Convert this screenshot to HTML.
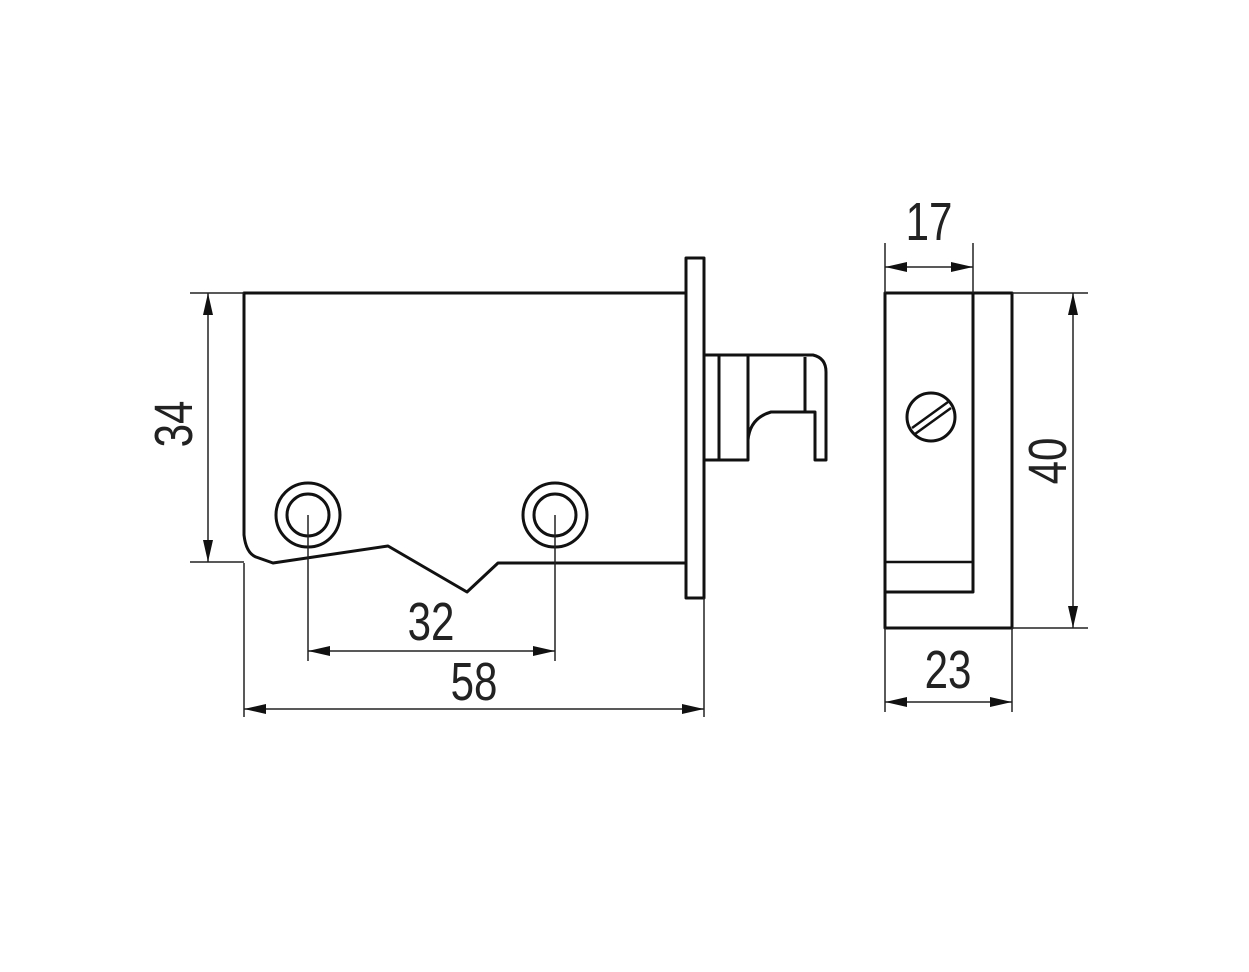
<!DOCTYPE html>
<html><head><meta charset="utf-8"><style>
html,body{margin:0;padding:0;background:#fff;}
svg{display:block;}
text{font-family:"Liberation Sans Narrow","Liberation Sans",sans-serif;font-size:54px;fill:#222;}
</style></head><body>
<svg width="1249" height="972" viewBox="0 0 1249 972" xmlns="http://www.w3.org/2000/svg">
<defs>
<marker id="a" viewBox="0 0 22 10" refX="22" refY="5" markerWidth="22" markerHeight="10" markerUnits="userSpaceOnUse" orient="auto-start-reverse">
<path d="M0,0 L22,5 L0,10 Z" fill="#111"/></marker>
</defs>
<g fill="none" stroke="#111" stroke-width="3" stroke-linejoin="round">
<path d="M686,293 L244,293 L244,535 Q246,553 256,557 L273,563 L388,546 L467,592 L498,563 L686,563"/>
<rect x="686" y="258" width="18" height="340"/>
<path d="M704,355 L813,355 Q826,358 826,372 L826,460 L815,460 L815,412 L771,412 Q750,418 748,440 L748,460 L704,460"/>
<line x1="748" y1="355" x2="748" y2="460"/>
<line x1="719" y1="355" x2="719" y2="460"/>
<line x1="805" y1="357" x2="805" y2="412"/>
<circle cx="308" cy="515" r="32"/><circle cx="308" cy="515" r="21"/>
<circle cx="555" cy="515" r="32"/><circle cx="555" cy="515" r="21"/>
<rect x="885" y="293" width="127" height="335"/>
<path d="M973,293 L973,592 L885,592"/>
<line x1="885" y1="562" x2="973" y2="562" stroke-width="2.5"/>
<circle cx="931" cy="417" r="24"/>
<line x1="912" y1="428" x2="948" y2="402" stroke-width="2.5"/>
<line x1="915" y1="434" x2="951" y2="408" stroke-width="2.5"/>
</g>
<g fill="none" stroke="#222" stroke-width="1.5">
<line x1="190" y1="293" x2="244" y2="293"/><line x1="190" y1="562" x2="244" y2="562"/>
<line x1="208" y1="293" x2="208" y2="562" marker-start="url(#a)" marker-end="url(#a)"/>
<line x1="308" y1="515" x2="308" y2="661"/><line x1="555" y1="515" x2="555" y2="661"/>
<line x1="308" y1="651" x2="555" y2="651" marker-start="url(#a)" marker-end="url(#a)"/>
<line x1="244" y1="563" x2="244" y2="717"/><line x1="704" y1="598" x2="704" y2="717"/>
<line x1="244" y1="709" x2="704" y2="709" marker-start="url(#a)" marker-end="url(#a)"/>
<line x1="885" y1="243" x2="885" y2="293"/><line x1="973" y1="243" x2="973" y2="293"/>
<line x1="885" y1="267" x2="973" y2="267" marker-start="url(#a)" marker-end="url(#a)"/>
<line x1="1012" y1="293" x2="1088" y2="293"/><line x1="1012" y1="628" x2="1088" y2="628"/>
<line x1="1073" y1="293" x2="1073" y2="628" marker-start="url(#a)" marker-end="url(#a)"/>
<line x1="885" y1="628" x2="885" y2="712"/><line x1="1012" y1="628" x2="1012" y2="712"/>
<line x1="885" y1="702" x2="1012" y2="702" marker-start="url(#a)" marker-end="url(#a)"/>
</g>
<g text-anchor="middle">
<text transform="translate(192,424) rotate(-90) scale(0.78,1)">34</text>
<text transform="translate(431,640) scale(0.78,1)">32</text>
<text transform="translate(474,700) scale(0.78,1)">58</text>
<text transform="translate(929,240) scale(0.78,1)">17</text>
<text transform="translate(948,688) scale(0.78,1)">23</text>
<text transform="translate(1066,461) rotate(-90) scale(0.78,1)">40</text>
</g>
</svg>
</body></html>
